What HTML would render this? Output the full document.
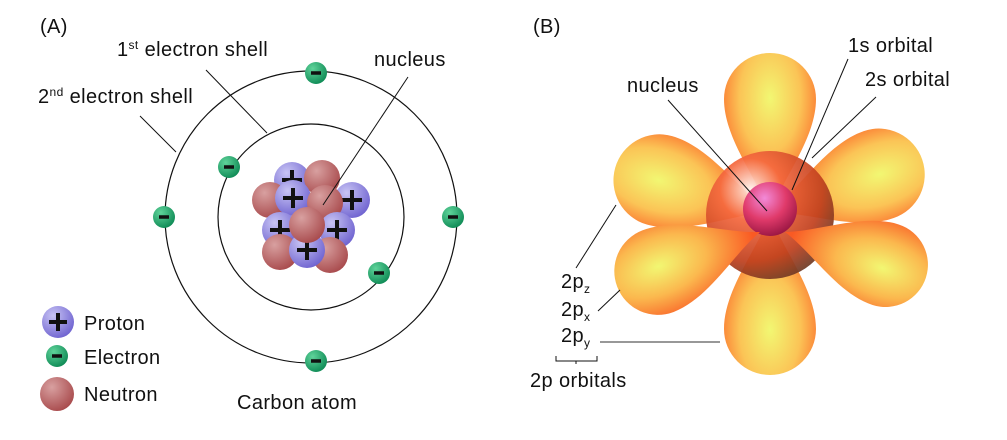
<!DOCTYPE html>
<html><head><meta charset="utf-8"><style>
html,body{margin:0;padding:0;background:#fff;}
svg{display:block;font-family:"Liberation Sans",sans-serif;}
text{font-size:20px;fill:#111;letter-spacing:0.4px;}
</style></head><body>
<svg width="1007" height="440" viewBox="0 0 1007 440">
<defs>
<radialGradient id="gP" cx="0.35" cy="0.3" r="0.75"><stop offset="0" stop-color="#c8c4f4"/><stop offset="1" stop-color="#6f63d0"/></radialGradient>
<radialGradient id="gN" cx="0.35" cy="0.3" r="0.75"><stop offset="0" stop-color="#d8a0a0"/><stop offset="1" stop-color="#a84a4c"/></radialGradient>
<radialGradient id="gE" cx="0.35" cy="0.3" r="0.75"><stop offset="0" stop-color="#5fd39a"/><stop offset="1" stop-color="#0e8a55"/></radialGradient>
<radialGradient id="gL" cx="0.5" cy="0.72" r="0.6"><stop offset="0" stop-color="#f2f772"/><stop offset="0.55" stop-color="#fbc456"/><stop offset="1" stop-color="#fb6a2a"/></radialGradient>
<radialGradient id="gL2" cx="0.45" cy="0.7" r="0.65"><stop offset="0" stop-color="#f2f772"/><stop offset="0.5" stop-color="#fbb84e"/><stop offset="1" stop-color="#f95a24"/></radialGradient>
<radialGradient id="g2s" cx="0.35" cy="0.3" r="0.8"><stop offset="0" stop-color="#fff3ec"/><stop offset="0.3" stop-color="#f5683e"/><stop offset="0.7" stop-color="#c0401e"/><stop offset="1" stop-color="#5a3a28"/></radialGradient>
<radialGradient id="g1s" cx="0.4" cy="0.3" r="0.8"><stop offset="0" stop-color="#f28ad8"/><stop offset="0.5" stop-color="#e03a6a"/><stop offset="1" stop-color="#8a0e3a"/></radialGradient>
<path id="lobe" d="M0,0 C-12,35 -46,75 -46,115 A46,46 0 0 0 46,115 C46,75 12,35 0,0Z"/>
</defs>

<!-- Panel A -->
<text x="40" y="33">(A)</text>
<circle cx="311" cy="217" r="93" fill="none" stroke="#111" stroke-width="1.2"/>
<circle cx="311" cy="217" r="146" fill="none" stroke="#111" stroke-width="1.2"/>
<line x1="267" y1="133" x2="206" y2="70" stroke="#111"/>
<line x1="176" y1="152" x2="140" y2="116" stroke="#111"/>
<text x="117" y="56">1<tspan font-size="12" dy="-7">st</tspan><tspan dy="7"> electron shell</tspan></text>
<text x="38" y="103">2<tspan font-size="12" dy="-7">nd</tspan><tspan dy="7"> electron shell</tspan></text>
<text x="374" y="66">nucleus</text>
<g stroke="#111" stroke-width="4">
<circle cx="292" cy="180" r="18" fill="url(#gP)" stroke="none"/><path d="M282,180h20M292,170v20"/>
<circle cx="322" cy="178" r="18" fill="url(#gN)" stroke="none"/>
<circle cx="270" cy="200" r="18" fill="url(#gN)" stroke="none"/>
<circle cx="352" cy="200" r="18" fill="url(#gP)" stroke="none"/><path d="M342,200h20M352,190v20"/>
<circle cx="293" cy="198" r="18" fill="url(#gP)" stroke="none"/><path d="M283,198h20M293,188v20"/>
<circle cx="325" cy="203" r="18" fill="url(#gN)" stroke="none"/>
<circle cx="280" cy="230" r="18" fill="url(#gP)" stroke="none"/><path d="M270,230h20M280,220v20"/>
<circle cx="337" cy="230" r="18" fill="url(#gP)" stroke="none"/><path d="M327,230h20M337,220v20"/>
<circle cx="280" cy="252" r="18" fill="url(#gN)" stroke="none"/>
<circle cx="330" cy="255" r="18" fill="url(#gN)" stroke="none"/>
<circle cx="307" cy="250" r="18" fill="url(#gP)" stroke="none"/><path d="M297,250h20M307,240v20"/>
<circle cx="307" cy="225" r="18" fill="url(#gN)" stroke="none"/>
</g>
<line x1="323" y1="205" x2="408" y2="77" stroke="#111"/>
<g stroke="#111" stroke-width="3.5">
<circle cx="316" cy="73" r="11" fill="url(#gE)" stroke="none"/><path d="M311,73h10"/>
<circle cx="229" cy="167" r="11" fill="url(#gE)" stroke="none"/><path d="M224,167h10"/>
<circle cx="164" cy="217" r="11" fill="url(#gE)" stroke="none"/><path d="M159,217h10"/>
<circle cx="453" cy="217" r="11" fill="url(#gE)" stroke="none"/><path d="M448,217h10"/>
<circle cx="379" cy="273" r="11" fill="url(#gE)" stroke="none"/><path d="M374,273h10"/>
<circle cx="316" cy="361" r="11" fill="url(#gE)" stroke="none"/><path d="M311,361h10"/>
</g>
<g stroke="#111" stroke-width="4">
<circle cx="58" cy="322" r="16" fill="url(#gP)" stroke="none"/><path d="M49,322h18M58,313v18"/>
<circle cx="57" cy="356" r="11" fill="url(#gE)" stroke="none"/><path d="M52,356h10" stroke-width="3.5"/>
<circle cx="57" cy="394" r="17" fill="url(#gN)" stroke="none"/>
</g>
<text x="84" y="330">Proton</text>
<text x="84" y="364">Electron</text>
<text x="84" y="401">Neutron</text>
<text x="237" y="409">Carbon atom</text>

<!-- Panel B -->
<text x="533" y="33">(B)</text>
<g fill="url(#gL)">
<use href="#lobe" transform="translate(770,212) rotate(106)"/>
<use href="#lobe" transform="translate(770,212) rotate(-109)"/>
<use href="#lobe" transform="translate(770,214) rotate(180)"/>
<use href="#lobe" transform="translate(770,214) rotate(0)"/>
<circle cx="770" cy="215" r="64" fill="url(#g2s)" opacity="0.93"/>
<circle cx="770" cy="209" r="27" fill="url(#g1s)"/>
<use href="#lobe" fill="url(#gL2)" transform="translate(760,232) rotate(69) scale(0.95)"/>
<use href="#lobe" fill="url(#gL2)" transform="translate(785,232) rotate(-72) scale(0.92)"/>
</g>
<text x="627" y="92">nucleus</text>
<text x="848" y="52">1s orbital</text>
<text x="865" y="86">2s orbital</text>
<g stroke="#111" stroke-width="1">
<line x1="668" y1="100" x2="767" y2="211"/>
<line x1="848" y1="59" x2="792" y2="190"/>
<line x1="876" y1="97" x2="812" y2="158"/>
<line x1="576" y1="268" x2="616" y2="205"/>
<line x1="598" y1="311" x2="620" y2="290"/>
<line x1="600" y1="342" x2="720" y2="342" stroke="#777" stroke-width="1.5"/>
<path d="M556,356v5h41v-5M576,361v3" fill="none"/>
</g>
<text x="561" y="288">2p<tspan font-size="12" dy="5">z</tspan></text>
<text x="561" y="316">2p<tspan font-size="12" dy="5">x</tspan></text>
<text x="561" y="342">2p<tspan font-size="12" dy="5">y</tspan></text>
<text x="530" y="387">2p orbitals</text>
</svg>
</body></html>
